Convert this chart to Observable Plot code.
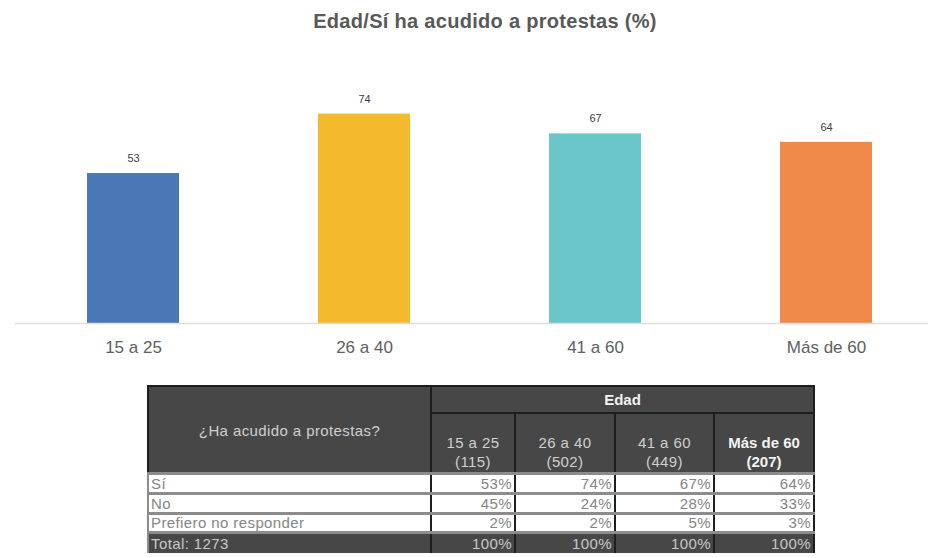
<!DOCTYPE html>
<html>
<head>
<meta charset="utf-8">
<script src="https://cdn.jsdelivr.net/npm/d3@7"></script>
<script src="https://cdn.jsdelivr.net/npm/@observablehq/plot@0.6"></script>
<style>
  html, body { margin: 0; padding: 0; background: #fff; }
  #wrap { position: relative; width: 930px; height: 558px; overflow: hidden; font-family: "Liberation Sans", Arial, sans-serif; }
  #title { position: absolute; left: 0; width: 970px; top: 10px; text-align: center; font-weight: bold; font-size: 20px; letter-spacing: 0.3px; color: #595959; }
  #chart { position: absolute; left: 0; top: 0; }
  #tbl { position: absolute; left: 147px; top: 385px; border-collapse: collapse; table-layout: fixed; width: 666px; font-size: 15px; letter-spacing: 0.4px; }
  #tbl td, #tbl th { padding: 0 2px; overflow: hidden; white-space: nowrap; }
  #tbl th { background: #474747; color: #cfcfcf; font-weight: normal; border: 2px solid #1e1e1e; text-align: center; line-height: 19px; }
  #tbl th.bold { font-weight: bold; color: #f2f2f2; letter-spacing: 0; }
  #tbl td { background: #fff; color: #858585; border-top: 3px solid #8c8c8c; border-left: 2px solid #1e1e1e; border-right: 2px solid #1e1e1e; text-align: right; line-height: 15px; }
  #tbl td.lab { text-align: left; border-left: 2px solid #8c8c8c; }
  #tbl tr.total td { background: #474747; color: #c8c8c8; }
</style>
</head>
<body>
<div id="wrap">
  <div id="title"></div>
  <div id="chart"></div>
  <table id="tbl"></table>
</div>
<script>
const title = "Edad/Sí ha acudido a protestas (%)";
const categories = ["15 a 25", "26 a 40", "41 a 60", "Más de 60"];
const values = [53, 74, 67, 64];
const colors = ["#4a78b6", "#f5b92e", "#6bc6ca", "#ef8a4b"];

const tableQuestion = "¿Ha acudido a protestas?";
const tableGroup = "Edad";
const sampleSizes = [115, 502, 449, 207];
const rowLabels = ["Sí", "No", "Prefiero no responder"];
const rowSi = [53, 74, 67, 64];
const rowNo = [45, 24, 28, 33];
const rowPrefiero = [2, 2, 5, 3];
const totalLabel = "Total: 1273";
const rowTotal = [100, 100, 100, 100];

document.getElementById("title").textContent = title;

const data = categories.map((c, i) => ({cat: c, value: values[i], color: colors[i]}));

const chart = Plot.plot({
  width: 930,
  height: 370,
  marginTop: 40,
  marginBottom: 47,
  marginLeft: 15,
  marginRight: 2,
  x: {domain: categories, range: [17.3, 942.5], paddingInner: 0.6, paddingOuter: 0.3, label: null},
  y: {domain: [0, 100], axis: null},
  style: {fontFamily: "Liberation Sans, Arial, sans-serif"},
  marks: [
    Plot.barY(data, {x: "cat", y: "value", fill: "color"}),
    Plot.ruleY([0], {stroke: "#dedede", strokeWidth: 1.5}),
    Plot.text(data, {x: "cat", y: "value", text: d => String(d.value), dy: -15, fontSize: 11, fill: "#404040"}),
    Plot.axisX({tickSize: 0, tickPadding: 17, fontSize: 17, color: "#606060", label: null})
  ]
});
document.getElementById("chart").appendChild(chart);

// Table
const tbl = document.getElementById("tbl");
const colW = [283, 84, 100, 99, 100];
const cg = document.createElement("colgroup");
colW.forEach(w => { const c = document.createElement("col"); c.style.width = w + "px"; cg.appendChild(c); });
tbl.appendChild(cg);

const r1 = document.createElement("tr");
r1.style.height = "27px";
const q = document.createElement("th"); q.rowSpan = 2; q.textContent = tableQuestion; q.style.paddingTop = "2px";
r1.appendChild(q);
const g = document.createElement("th"); g.colSpan = 4; g.textContent = tableGroup; g.classList.add("bold");
r1.appendChild(g);
tbl.appendChild(r1);

const r2 = document.createElement("tr");
r2.style.height = "60px";
categories.forEach((c, i) => {
  const th = document.createElement("th");
  th.innerHTML = c + "<br>(" + sampleSizes[i] + ")";
  th.style.verticalAlign = "bottom";
  th.style.paddingBottom = "1px";
  if (i === 3) th.classList.add("bold");
  r2.appendChild(th);
});
tbl.appendChild(r2);

const rowH = [20, 20, 19, 21];
const bodyRows = [[rowLabels[0], rowSi], [rowLabels[1], rowNo], [rowLabels[2], rowPrefiero], [totalLabel, rowTotal]];
bodyRows.forEach(([lab, vals], k) => {
  const tr = document.createElement("tr");
  tr.style.height = rowH[k] + "px";
  if (k === 3) tr.classList.add("total");
  const td = document.createElement("td"); td.className = "lab"; td.textContent = lab; tr.appendChild(td);
  vals.forEach(v => { const t = document.createElement("td"); t.textContent = v + "%"; tr.appendChild(t); });
  tbl.appendChild(tr);
});
</script>
</body>
</html>
